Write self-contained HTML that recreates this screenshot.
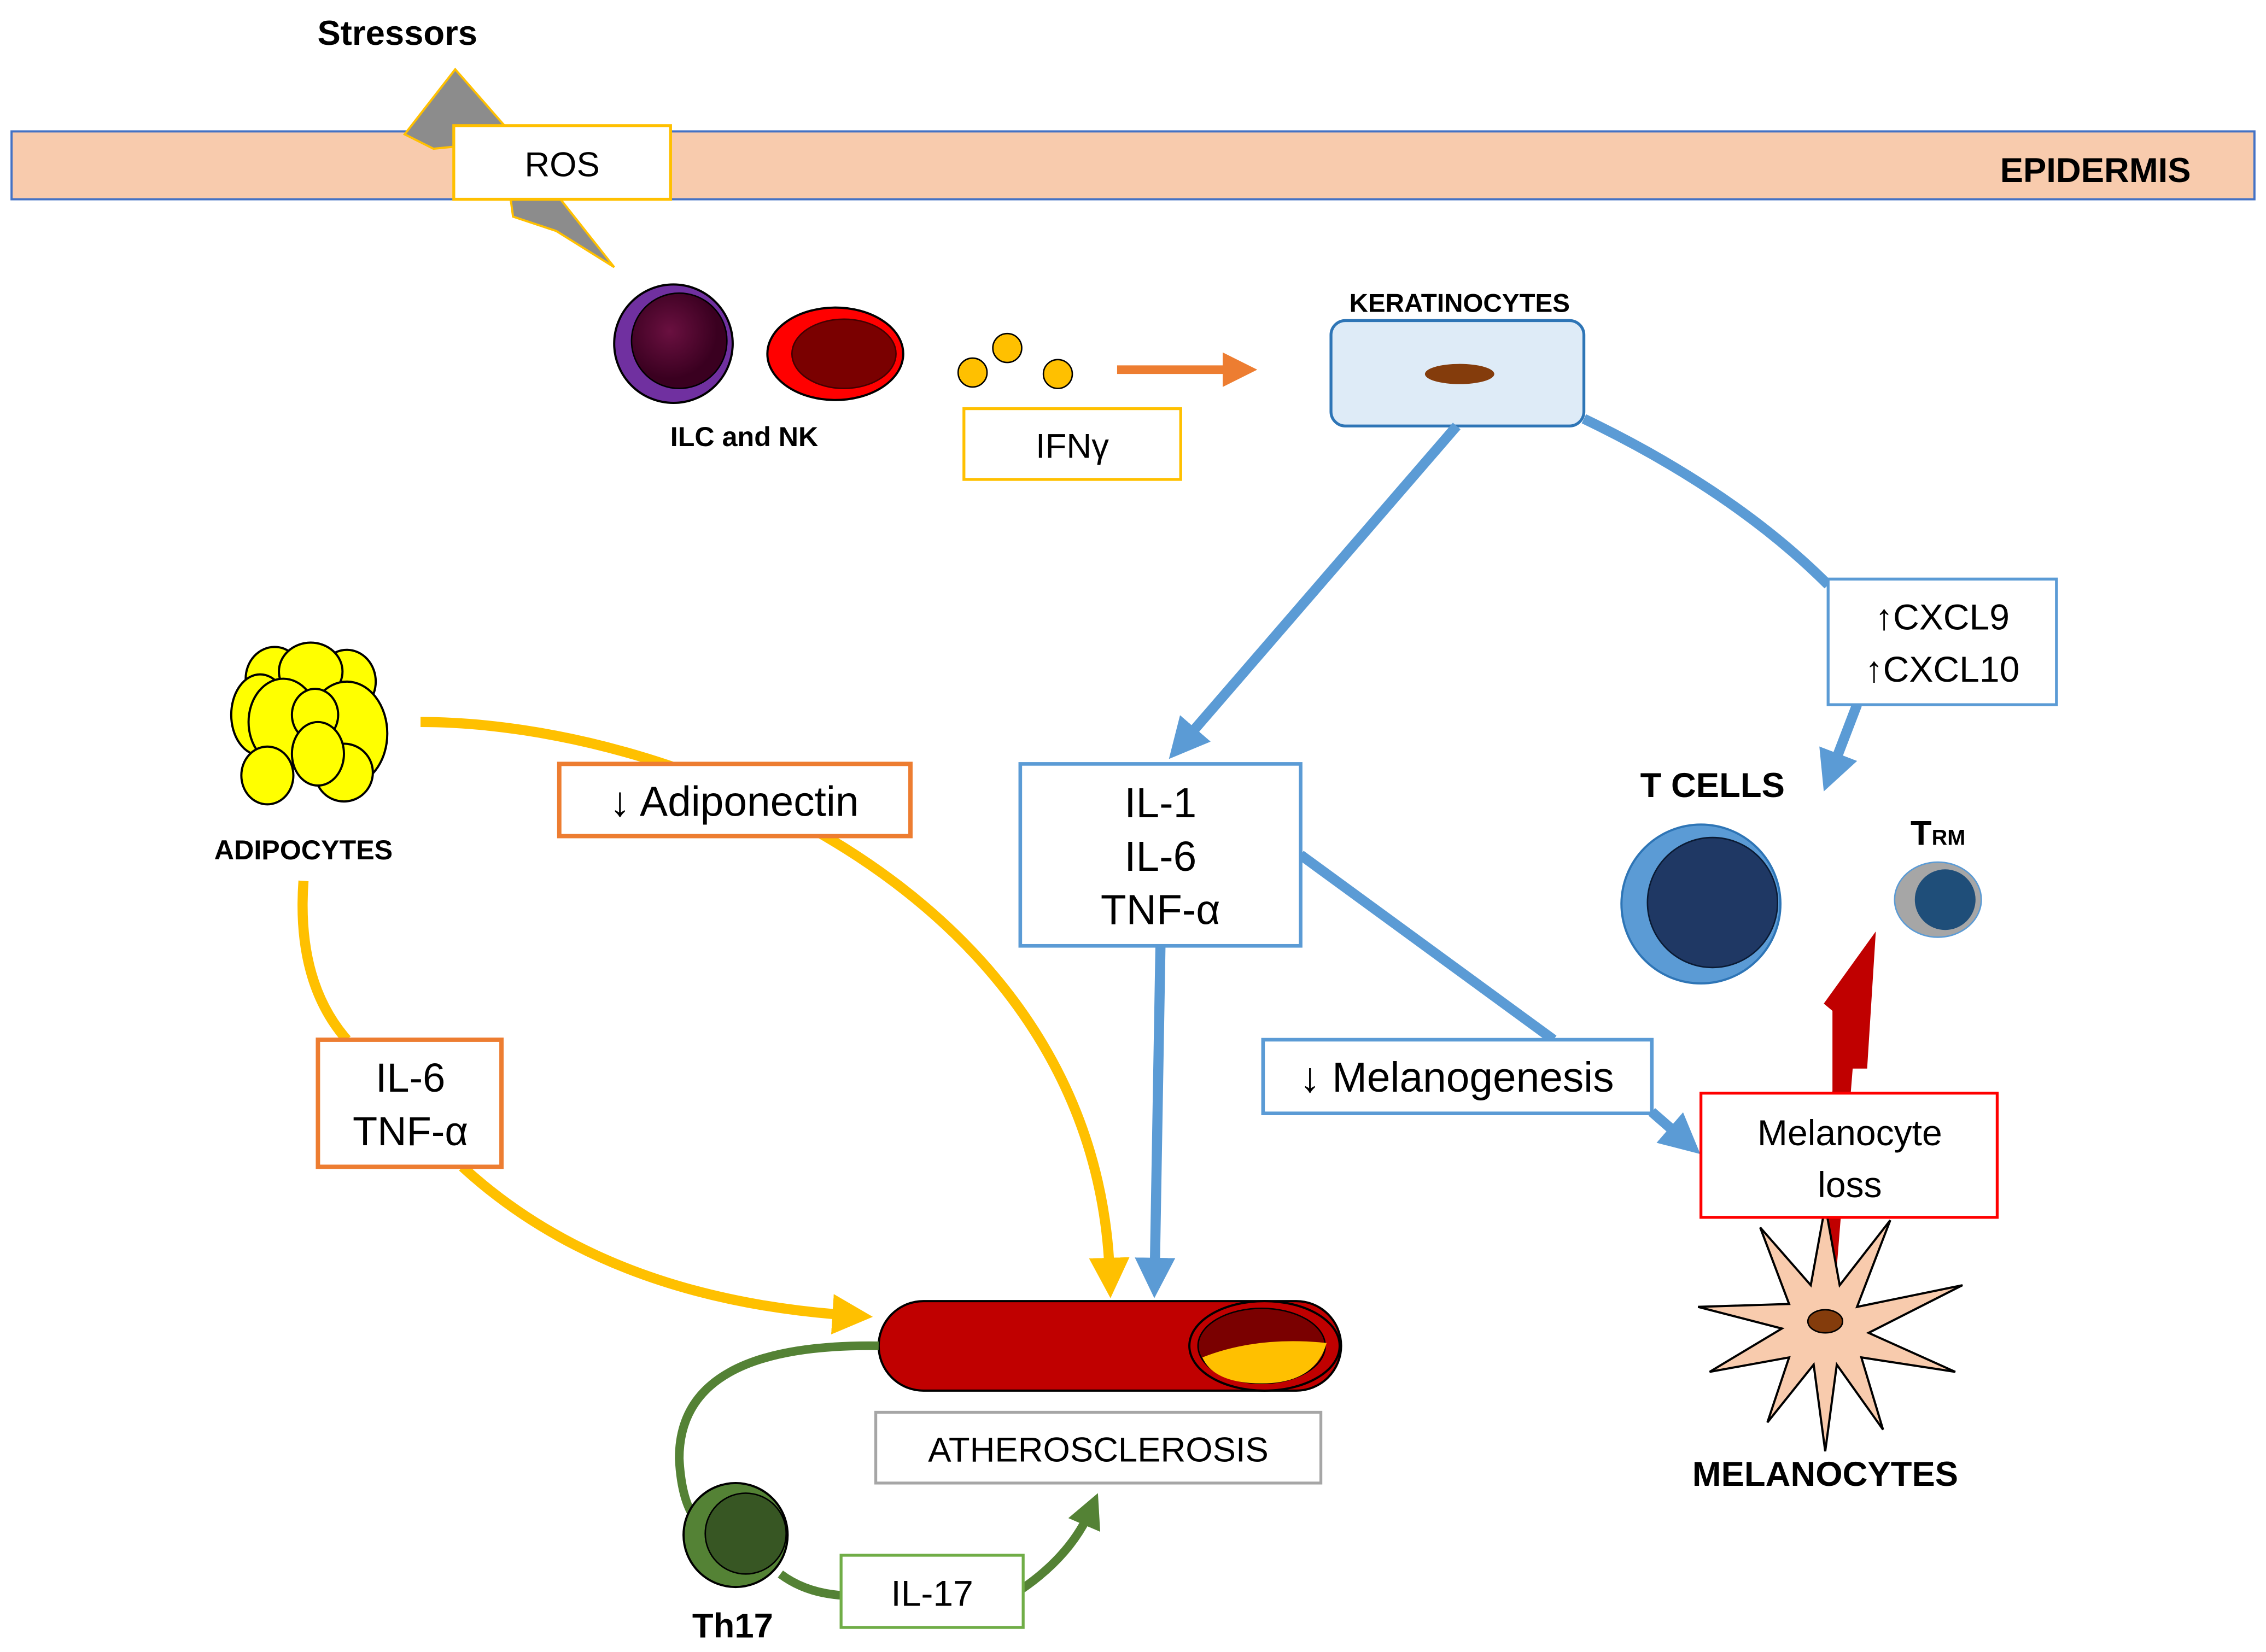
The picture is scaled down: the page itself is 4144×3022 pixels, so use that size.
<!DOCTYPE html>
<html><head><meta charset="utf-8"><style>
html,body{margin:0;padding:0;background:#fff;}
svg{display:block;}
text{font-family:"Liberation Sans",sans-serif;}
</style></head><body>
<svg width="4144" height="3022" viewBox="0 0 1568 1144" preserveAspectRatio="none" xmlns="http://www.w3.org/2000/svg">
<defs>
<marker id="ab" markerWidth="4" markerHeight="4" refX="2" refY="2" orient="auto" markerUnits="strokeWidth"><path d="M0,0 L4,2 L0,4 z" fill="#5b9bd5"/></marker>
<marker id="ay" markerWidth="4" markerHeight="4" refX="2" refY="2" orient="auto" markerUnits="strokeWidth"><path d="M0,0 L4,2 L0,4 z" fill="#ffc000"/></marker>
<marker id="ao" markerWidth="4" markerHeight="4" refX="2" refY="2" orient="auto" markerUnits="strokeWidth"><path d="M0,0 L4,2 L0,4 z" fill="#ed7d31"/></marker>
<marker id="ag" markerWidth="4" markerHeight="4" refX="2" refY="2" orient="auto" markerUnits="strokeWidth"><path d="M0,0 L4,2 L0,4 z" fill="#548235"/></marker>
<radialGradient id="gp" cx="0.4" cy="0.4"><stop offset="0" stop-color="#6a1040"/><stop offset="1" stop-color="#3a0020"/></radialGradient>
</defs>
<rect width="1568" height="1144" fill="#fff"/>
<rect x="8" y="91" width="1552" height="47" fill="#f8cbad" stroke="#4472c4" stroke-width="1.5"/>
<text x="1450" y="126" font-size="24" font-weight="bold" text-anchor="middle">EPIDERMIS</text>
<text x="275" y="31" font-size="24" font-weight="bold" text-anchor="middle">Stressors</text>
<polygon points="280,93 315,48 350,88 330,100 300,103" fill="#8c8c8c" stroke="#ffc000" stroke-width="1.5"/>
<polygon points="352,128 372,118 425,185 385,160 355,150" fill="#8c8c8c" stroke="#ffc000" stroke-width="1.5"/>
<rect x="314" y="87" width="150" height="51" fill="#fff" stroke="#ffc000" stroke-width="2"/>
<text x="389" y="122" font-size="24" text-anchor="middle">ROS</text>
<circle cx="466" cy="238" r="41" fill="#7030a0" stroke="#000" stroke-width="1.5"/>
<circle cx="470" cy="236" r="33" fill="url(#gp)" stroke="#000" stroke-width="1"/>
<ellipse cx="578" cy="245" rx="47" ry="32" fill="#ff0000" stroke="#000" stroke-width="1.5"/>
<ellipse cx="584" cy="245" rx="36" ry="24" fill="#7a0000" stroke="#400" stroke-width="1"/>
<text x="515" y="309" font-size="19" font-weight="bold" text-anchor="middle">ILC and NK</text>
<circle cx="673" cy="258" r="10" fill="#ffc000" stroke="#000" stroke-width="1"/>
<circle cx="697" cy="241" r="10" fill="#ffc000" stroke="#000" stroke-width="1"/>
<circle cx="732" cy="259" r="10" fill="#ffc000" stroke="#000" stroke-width="1"/>
<rect x="667" y="283" width="150" height="49" fill="#fff" stroke="#ffc000" stroke-width="2"/>
<text x="742" y="317" font-size="24" text-anchor="middle">IFNγ</text>
<line x1="773" y1="256" x2="858" y2="256" stroke="#ed7d31" stroke-width="6" marker-end="url(#ao)"/>
<text x="1010" y="216" font-size="18" font-weight="bold" text-anchor="middle">KERATINOCYTES</text>
<rect x="921" y="222" width="175" height="73" rx="10" fill="#deebf7" stroke="#2e75b6" stroke-width="2"/>
<ellipse cx="1010" cy="259" rx="24" ry="7" fill="#843c0c"/>
<line x1="1008" y1="295" x2="818" y2="515" stroke="#5b9bd5" stroke-width="7" marker-end="url(#ab)"/>
<path d="M1096,290 Q1200,340 1265,405" fill="none" stroke="#5b9bd5" stroke-width="7"/>
<line x1="1285" y1="488" x2="1267" y2="535" stroke="#5b9bd5" stroke-width="7" marker-end="url(#ab)"/>
<rect x="1265" y="401" width="158" height="87" fill="#fff" stroke="#5b9bd5" stroke-width="2"/>
<text x="1344" y="436" font-size="25" text-anchor="middle">↑CXCL9</text>
<text x="1344" y="472" font-size="25" text-anchor="middle">↑CXCL10</text>
<line x1="900" y1="592" x2="1075" y2="720" stroke="#5b9bd5" stroke-width="7"/>
<line x1="803" y1="655" x2="799" y2="885" stroke="#5b9bd5" stroke-width="7" marker-end="url(#ab)"/>
<line x1="1143" y1="770" x2="1166" y2="790" stroke="#5b9bd5" stroke-width="7" marker-end="url(#ab)"/>
<rect x="706" y="529" width="194" height="126" fill="#fff" stroke="#5b9bd5" stroke-width="2.5"/>
<text x="803" y="566" font-size="29" text-anchor="middle">IL-1</text>
<text x="803" y="603" font-size="29" text-anchor="middle">IL-6</text>
<text x="803" y="640" font-size="29" text-anchor="middle">TNF-α</text>
<rect x="874" y="720" width="269" height="51" fill="#fff" stroke="#5b9bd5" stroke-width="2.5"/>
<text x="1008" y="756" font-size="29" text-anchor="middle">↓ Melanogenesis</text>
<text x="1185" y="552" font-size="24" font-weight="bold" text-anchor="middle">T CELLS</text>
<circle cx="1177" cy="626" r="55" fill="#5b9bd5" stroke="#2e75b6" stroke-width="1.5"/>
<circle cx="1185" cy="625" r="45" fill="#1f3864" stroke="#0a1a33" stroke-width="1"/>
<text x="1322" y="585" font-size="24" font-weight="bold">T<tspan font-size="15">RM</tspan></text>
<ellipse cx="1341" cy="623" rx="30" ry="26" fill="#a6a6a6" stroke="#5b9bd5" stroke-width="1"/>
<circle cx="1346" cy="623" r="21" fill="#1f4e79"/>
<polygon points="1298,645 1292,740 1282,740 1270,890 1258,890 1268,755 1268,700 1262,695" fill="#c00000"/>
<g transform="translate(1263,915)">
<path d="M0,-80 L10,-25 L45,-70 L22,-10 L95,-25 L30,8 L90,35 L25,25 L40,75 L8,30 L0,90 L-8,30 L-40,70 L-25,25 L-80,35 L-30,5 L-88,-10 L-25,-12 L-45,-65 L-10,-25 Z" fill="#f8cbad" stroke="#000" stroke-width="1.5"/>
<ellipse cx="0" cy="0" rx="12" ry="8" fill="#843c0c" stroke="#000"/>
</g>
<rect x="1177" y="757" width="205" height="86" fill="#fff" stroke="#ff0000" stroke-width="2"/>
<text x="1280" y="793" font-size="25" text-anchor="middle">Melanocyte</text>
<text x="1280" y="829" font-size="25" text-anchor="middle">loss</text>
<text x="1263" y="1029" font-size="24" font-weight="bold" text-anchor="middle">MELANOCYTES</text>
<g fill="#ffff00" stroke="#000" stroke-width="1.5">
<ellipse cx="190" cy="470" rx="20" ry="22"/><ellipse cx="240" cy="472" rx="20" ry="22"/>
<ellipse cx="215" cy="465" rx="22" ry="20"/>
<ellipse cx="240" cy="508" rx="28" ry="36"/><ellipse cx="238" cy="535" rx="20" ry="20"/>
<ellipse cx="180" cy="495" rx="20" ry="28"/>
<ellipse cx="196" cy="500" rx="24" ry="30"/><ellipse cx="218" cy="495" rx="16" ry="18"/>
<ellipse cx="220" cy="522" rx="18" ry="22"/><ellipse cx="185" cy="537" rx="18" ry="20"/>
</g>
<text x="210" y="595" font-size="19" font-weight="bold" text-anchor="middle">ADIPOCYTES</text>
<path d="M291,500 C470,500 760,620 768,885" fill="none" stroke="#ffc000" stroke-width="7" marker-end="url(#ay)"/>
<path d="M210,610 Q205,680 240,720" fill="none" stroke="#ffc000" stroke-width="7"/>
<path d="M320,808 Q420,900 590,911" fill="none" stroke="#ffc000" stroke-width="7" marker-end="url(#ay)"/>
<rect x="387" y="529" width="243" height="50" fill="#fff" stroke="#ed7d31" stroke-width="3"/>
<text x="508" y="565" font-size="29" text-anchor="middle">↓ Adiponectin</text>
<rect x="220" y="720" width="127" height="88" fill="#fff" stroke="#ed7d31" stroke-width="3"/>
<text x="284" y="756" font-size="28" text-anchor="middle">IL-6</text>
<text x="284" y="793" font-size="28" text-anchor="middle">TNF-α</text>
<rect x="608" y="901" width="320" height="62" rx="31" fill="#c00000" stroke="#000" stroke-width="1.5"/>
<ellipse cx="875" cy="932" rx="52" ry="31" fill="#c00000" stroke="#000" stroke-width="1.5"/>
<ellipse cx="873" cy="932" rx="44" ry="26" fill="#7a0000" stroke="#000" stroke-width="1"/>
<path d="M832,940 Q870,925 918,930 Q910,958 873,958 Q840,958 832,940 Z" fill="#ffc000"/>
<rect x="606" y="978" width="308" height="49" fill="#fff" stroke="#a6a6a6" stroke-width="2"/>
<text x="760" y="1012" font-size="24" text-anchor="middle">ATHEROSCLEROSIS</text>
<path d="M608,932 Q470,930 470,1010 Q472,1050 490,1060" fill="none" stroke="#548235" stroke-width="6"/>
<path d="M540,1090 Q560,1105 590,1105 L700,1105 Q740,1080 755,1045" fill="none" stroke="#548235" stroke-width="6" marker-end="url(#ag)"/>
<circle cx="509" cy="1063" r="36" fill="#548235" stroke="#000" stroke-width="1.5"/>
<circle cx="516" cy="1062" r="28" fill="#375623" stroke="#000" stroke-width="1"/>
<rect x="582" y="1077" width="126" height="50" fill="#fff" stroke="#70ad47" stroke-width="2"/>
<text x="645" y="1112" font-size="25" text-anchor="middle">IL-17</text>
<text x="507" y="1134" font-size="24" font-weight="bold" text-anchor="middle">Th17</text>
</svg>
</body></html>
